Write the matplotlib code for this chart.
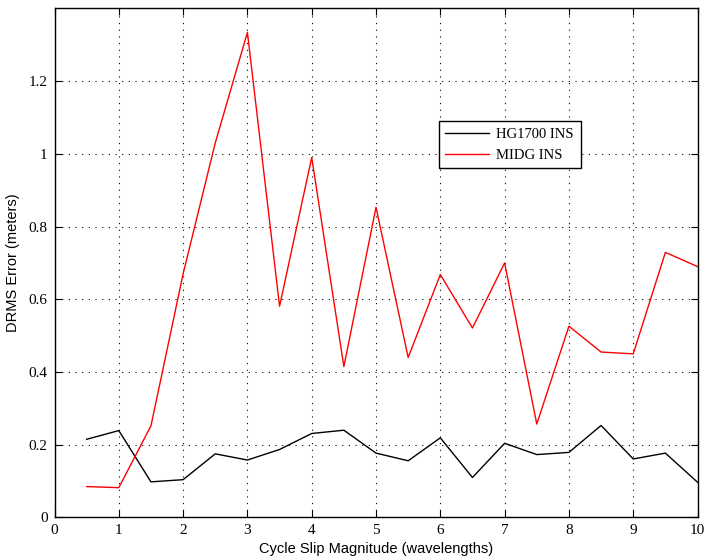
import numpy as np
import matplotlib.pyplot as plt

# Cycle slip magnitude (wavelengths) and DRMS error (meters) for each INS
slip = [0.5, 1, 1.5, 2, 2.5, 3, 3.5, 4, 4.5, 5, 5.5, 6, 6.5, 7, 7.5, 8, 8.5, 9, 9.5, 10]
hg1700 = [0.215, 0.239, 0.098, 0.104, 0.175, 0.158, 0.187, 0.231, 0.240, 0.177,
          0.156, 0.219, 0.110, 0.204, 0.173, 0.179, 0.253, 0.161, 0.177, 0.097]
midg = [0.085, 0.082, 0.252, 0.67, 1.03, 1.334, 0.581, 0.990, 0.415, 0.853,
        0.440, 0.668, 0.521, 0.700, 0.257, 0.526, 0.455, 0.450, 0.729, 0.690]

serif = 'Liberation Serif'
sans = 'Liberation Sans'

fig = plt.figure(figsize=(7.06, 5.58), dpi=100)
ax = fig.add_axes([0.0772, 0.0726, 0.9108, 0.9124])

ax.plot(slip, hg1700, color='black', linewidth=1.0, label='HG1700 INS')
ax.plot(slip, midg, color='red', linewidth=1.0, label='MIDG INS')

ax.set_xlim(0, 10)
ax.set_ylim(0, 1.4)
ax.set_xticks(range(0, 11))
ax.set_yticks([0, 0.2, 0.4, 0.6, 0.8, 1.0, 1.2])
ax.set_yticklabels(['0', '0.2', '0.4', '0.6', '0.8', '1', '1.2'])

ax.grid(True, color='black', linestyle=(0, (1, 5)), linewidth=0.8)
ax.tick_params(direction='in', top=True, right=True, length=5, width=0.8,
               labelsize=11, pad=5)
for lbl in ax.get_xticklabels() + ax.get_yticklabels():
    lbl.set_fontfamily(serif)
for sp in ax.spines.values():
    sp.set_linewidth(1.0)

ax.set_xlabel('Cycle Slip Magnitude (wavelengths)', fontfamily=sans, fontsize=10.5, labelpad=3)
ax.set_ylabel('DRMS Error (meters)', fontfamily=sans, fontsize=10.5, labelpad=6)

leg = ax.legend(loc='upper left', bbox_to_anchor=(0.5975, 0.779), fancybox=False,
                framealpha=1, edgecolor='black', prop={'family': serif, 'size': 10.5},
                borderpad=0.45, handlelength=3.0, handletextpad=0.5,
                labelspacing=0.55, borderaxespad=0)
leg.get_frame().set_linewidth(1.0)

fig.savefig('out.png', dpi=100)
